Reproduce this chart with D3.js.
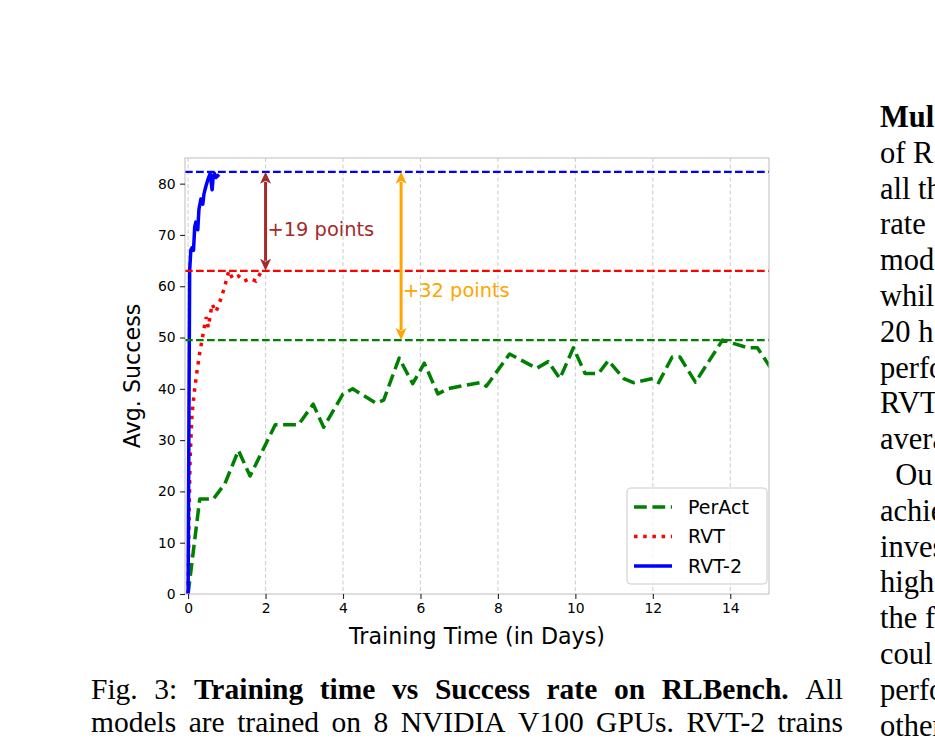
<!DOCTYPE html>
<html>
<head>
<meta charset="utf-8">
<script src="https://cdn.jsdelivr.net/npm/d3@7"></script>
<style>
    body { margin: 0; background: #fff; }
    svg { display: block; }
</style>
</head>
<body>
<div id="chart"></div>
<script>
// training curves (x = days, y = avg. success)
var perActDays = [0, 0.3, 0.65, 0.95, 1.3, 1.6, 2.25, 2.85, 3.23, 3.5, 4.0, 4.25, 4.85, 5.05, 5.45, 5.8, 6.1, 6.45, 6.7, 7.1, 7.55, 7.7, 8.3, 9.0, 9.3, 9.6, 9.95, 10.25, 10.6, 10.85, 11.25, 11.5, 12.0, 12.15, 12.5, 12.7, 13.1, 13.8, 14.1, 14.45, 14.7, 15.05];
var perActScores = [0, 18.5, 18.5, 21.5, 28, 23, 33, 33, 37, 32.5, 39, 40, 37.2, 37.8, 46, 41, 45, 39, 40, 40.6, 41.2, 40.5, 46.8, 44, 45.3, 42, 48, 43, 43, 45.5, 42, 41.2, 42, 41.2, 46.2, 46.2, 41.3, 49.5, 48.8, 48, 48, 44];

var rvtDays = [0, 0.02, 0.05, 0.1, 0.17, 0.24, 0.3, 0.37, 0.44, 0.47, 0.52, 0.62, 0.72, 0.82, 0.93, 1.05, 1.15, 1.3, 1.45, 1.6, 1.75, 1.9];
var rvtScores = [0, 12, 26, 35, 40, 44, 47, 50, 53, 54, 52, 56.5, 55, 57, 59.5, 63, 61.5, 62, 61, 61.5, 61, 63];

var rvt2Days = [0, 0.04, 0.07, 0.1, 0.14, 0.17, 0.2, 0.25, 0.28, 0.33, 0.38, 0.41, 0.46, 0.52, 0.57, 0.62, 0.65, 0.68, 0.72, 0.8];
var rvt2Scores = [0, 63, 67, 67.5, 67, 71.5, 72.5, 71, 75, 77, 76, 78, 79.5, 81, 82, 78.8, 81.5, 82, 81.2, 81.8];

var modelNames = ["PerAct", "RVT", "RVT-2"];
var bestScores = [49.5, 63, 82.3];
var modelColors = ["green", "red", "blue"];

var xTicks = [0, 2, 4, 6, 8, 10, 12, 14];
var yTicks = [0, 10, 20, 30, 40, 50, 60, 70, 80];

// gap arrows: [x, from, to, label, label x, label y, colour]
var gapArrows = [
    [2, 63, 82.3, "+19 points", 2.05, 71.2, "brown"],
    [5.5, 49.5, 82.3, "+32 points", 5.55, 59.3, "orange"]
];

var captionLines = [
    [["Fig.", 0], ["3:", 0], ["Training", 1], ["time", 1], ["vs", 1], ["Success", 1], ["rate", 1], ["on", 1], ["RLBench.", 1], ["All", 0]],
    [["models", 0], ["are", 0], ["trained", 0], ["on", 0], ["8", 0], ["NVIDIA", 0], ["V100", 0], ["GPUs.", 0], ["RVT-2", 0], ["trains", 0]]
];

// what shows of the next column at the page edge
var sideLines = [
    ["Mul", 1], ["of R", 0], ["all th", 0], ["rate", 0], ["mode", 0], ["whil", 0],
    ["20 h", 0], ["perfo", 0], ["RVT", 0], ["avera", 0], ["\u00a0\u00a0Ou", 0], ["achie", 0],
    ["inves", 0], ["highe", 0], ["the f", 0], ["coul", 0], ["perfo", 0], ["other", 0]
];

(function () {
    var width = 935,
        height = 746;

    var left = 185, right = 769, top = 158, bottom = 594;

    var svg = d3.select("#chart").append("svg")
        .attr("width", width)
        .attr("height", height)
        .style("background", "#fff");

    var x = d3.scaleLinear().domain([-0.08, 15]).range([left, right]);
    var y = d3.scaleLinear().domain([0, 85]).range([bottom, top]);

    svg.append("clipPath").attr("id", "plotclip")
        .append("rect")
        .attr("x", left).attr("y", top)
        .attr("width", right - left).attr("height", bottom - top);

    // vertical grid
    svg.append("g").selectAll("line")
        .data(xTicks)
        .enter().append("line")
        .attr("x1", function (d) { return x(d) })
        .attr("x2", function (d) { return x(d) })
        .attr("y1", top)
        .attr("y2", bottom)
        .attr("stroke", "#cfcfcf")
        .attr("stroke-width", 1.1)
        .attr("stroke-dasharray", "4,2.5");

    var plot = svg.append("g").attr("clip-path", "url(#plotclip)");

    var line = d3.line()
        .x(function (d) { return x(d[0]) })
        .y(function (d) { return y(d[1]) });

    plot.append("path")
        .datum(d3.zip(perActDays, perActScores))
        .attr("d", line)
        .attr("fill", "none")
        .attr("stroke", "green")
        .attr("stroke-width", 3.5)
        .attr("stroke-dasharray", "12.8,5.6")
        .attr("stroke-linejoin", "round");

    plot.append("path")
        .datum(d3.zip(rvtDays, rvtScores))
        .attr("d", line)
        .attr("fill", "none")
        .attr("stroke", "red")
        .attr("stroke-width", 3.5)
        .attr("stroke-dasharray", "3.5,5.7");

    plot.append("path")
        .datum(d3.zip(rvt2Days, rvt2Scores))
        .attr("d", line)
        .attr("fill", "none")
        .attr("stroke", "blue")
        .attr("stroke-width", 3.5)
        .attr("stroke-linejoin", "round");

    // best-score reference lines
    plot.selectAll(".best")
        .data(bestScores)
        .enter().append("line")
        .attr("class", "best")
        .attr("x1", left)
        .attr("x2", right)
        .attr("y1", function (d) { return y(d) })
        .attr("y2", function (d) { return y(d) })
        .attr("stroke", function (d, i) { return modelColors[i] })
        .attr("stroke-width", 2.1)
        .attr("stroke-dasharray", "7.7,3.3");

    // arrows
    var arrows = svg.append("g");
    gapArrows.forEach(function (a) {
        var ax = x(a[0]), y1 = y(a[1]), y2 = y(a[2]), hl = 12, hw = 5.5;
        arrows.append("line")
            .attr("x1", ax).attr("x2", ax)
            .attr("y1", y1 - hl + 2).attr("y2", y2 + hl - 2)
            .attr("stroke", a[6])
            .attr("stroke-width", 3);
        arrows.append("path")
            .attr("d", "M" + ax + "," + y2 + "L" + (ax - hw) + "," + (y2 + hl) + "L" + ax + "," + (y2 + hl - 3) + "L" + (ax + hw) + "," + (y2 + hl) + "Z")
            .attr("fill", a[6]);
        arrows.append("path")
            .attr("d", "M" + ax + "," + y1 + "L" + (ax - hw) + "," + (y1 - hl) + "L" + ax + "," + (y1 - hl + 3) + "L" + (ax + hw) + "," + (y1 - hl) + "Z")
            .attr("fill", a[6]);
        arrows.append("text")
            .attr("x", x(a[4]))
            .attr("y", y(a[5]))
            .attr("dy", "0.35em")
            .attr("fill", a[6])
            .style("font-family", "DejaVu Sans")
            .style("font-size", "19.4px")
            .text(a[3]);
    });

    // frame
    svg.append("rect")
        .attr("x", left).attr("y", top)
        .attr("width", right - left).attr("height", bottom - top)
        .attr("fill", "none")
        .attr("stroke", "#c4c4c4")
        .attr("stroke-width", 1.1);

    var xAxis = svg.append("g")
        .attr("transform", "translate(0," + bottom + ")")
        .call(d3.axisBottom(x).tickValues(xTicks).tickSize(4.9).tickPadding(4.5));
    var yAxis = svg.append("g")
        .attr("transform", "translate(" + left + ",0)")
        .call(d3.axisLeft(y).tickValues(yTicks).tickSize(4.9).tickPadding(4.5));

    [xAxis, yAxis].forEach(function (ax) {
        ax.select(".domain").remove();
        ax.selectAll(".tick line").attr("stroke", "#222").attr("stroke-width", 1.1);
        ax.selectAll(".tick text")
            .attr("fill", "#000")
            .style("font-family", "DejaVu Sans")
            .style("font-size", "13.9px");
    });

    svg.append("text")
        .attr("x", (left + right) / 2)
        .attr("y", 644)
        .attr("text-anchor", "middle")
        .style("font-family", "DejaVu Sans")
        .style("font-size", "22.2px")
        .text("Training Time (in Days)");

    svg.append("text")
        .attr("transform", "translate(140," + ((top + bottom) / 2) + ") rotate(-90)")
        .attr("text-anchor", "middle")
        .style("font-family", "DejaVu Sans")
        .style("font-size", "22.2px")
        .text("Avg. Success");

    // legend
    var legend = svg.append("g");
    legend.append("rect")
        .attr("x", 627).attr("y", 488)
        .attr("width", 140).attr("height", 96)
        .attr("rx", 4)
        .attr("fill", "#fff")
        .attr("fill-opacity", 0.8)
        .attr("stroke", "#cccccc")
        .attr("stroke-width", 1.1);

    var dashes = ["12.8,5.6", "3.5,5.7", null];
    var rows = legend.selectAll(".row")
        .data(modelNames)
        .enter().append("g")
        .attr("class", "row")
        .attr("transform", function (d, i) { return "translate(634," + (507 + i * 29.5) + ")" });
    rows.append("line")
        .attr("x1", 0).attr("x2", 38)
        .attr("stroke", function (d, i) { return modelColors[i] })
        .attr("stroke-width", 3.5)
        .attr("stroke-dasharray", function (d, i) { return dashes[i] });
    rows.append("text")
        .attr("x", 54)
        .attr("dy", "0.35em")
        .style("font-family", "DejaVu Sans")
        .style("font-size", "19px")
        .text(function (d) { return d });

    // caption, justified
    var cap = svg.append("g")
        .style("font-family", "Liberation Serif")
        .style("font-size", "29.5px");
    captionLines.forEach(function (words, li) {
        var nodes = words.map(function (w) {
            return cap.append("text")
                .attr("y", 699 + li * 33)
                .style("font-weight", w[1] ? "bold" : "normal")
                .text(w[0]);
        });
        var widths = nodes.map(function (n) { return n.node().getComputedTextLength() });
        var gap = (843 - 91 - d3.sum(widths)) / (nodes.length - 1);
        var pos = 91;
        nodes.forEach(function (n, i) {
            n.attr("x", pos);
            pos += widths[i] + gap;
        });
    });

    // neighbouring column
    svg.append("g")
        .style("font-family", "Liberation Serif")
        .style("font-size", "30.5px")
        .selectAll("text")
        .data(sideLines)
        .enter().append("text")
        .attr("x", 880)
        .attr("y", function (d, i) { return 127 + i * 35.8 })
        .style("font-weight", function (d) { return d[1] ? "bold" : "normal" })
        .text(function (d) { return d[0] });
})();
</script>
</body>
</html>
